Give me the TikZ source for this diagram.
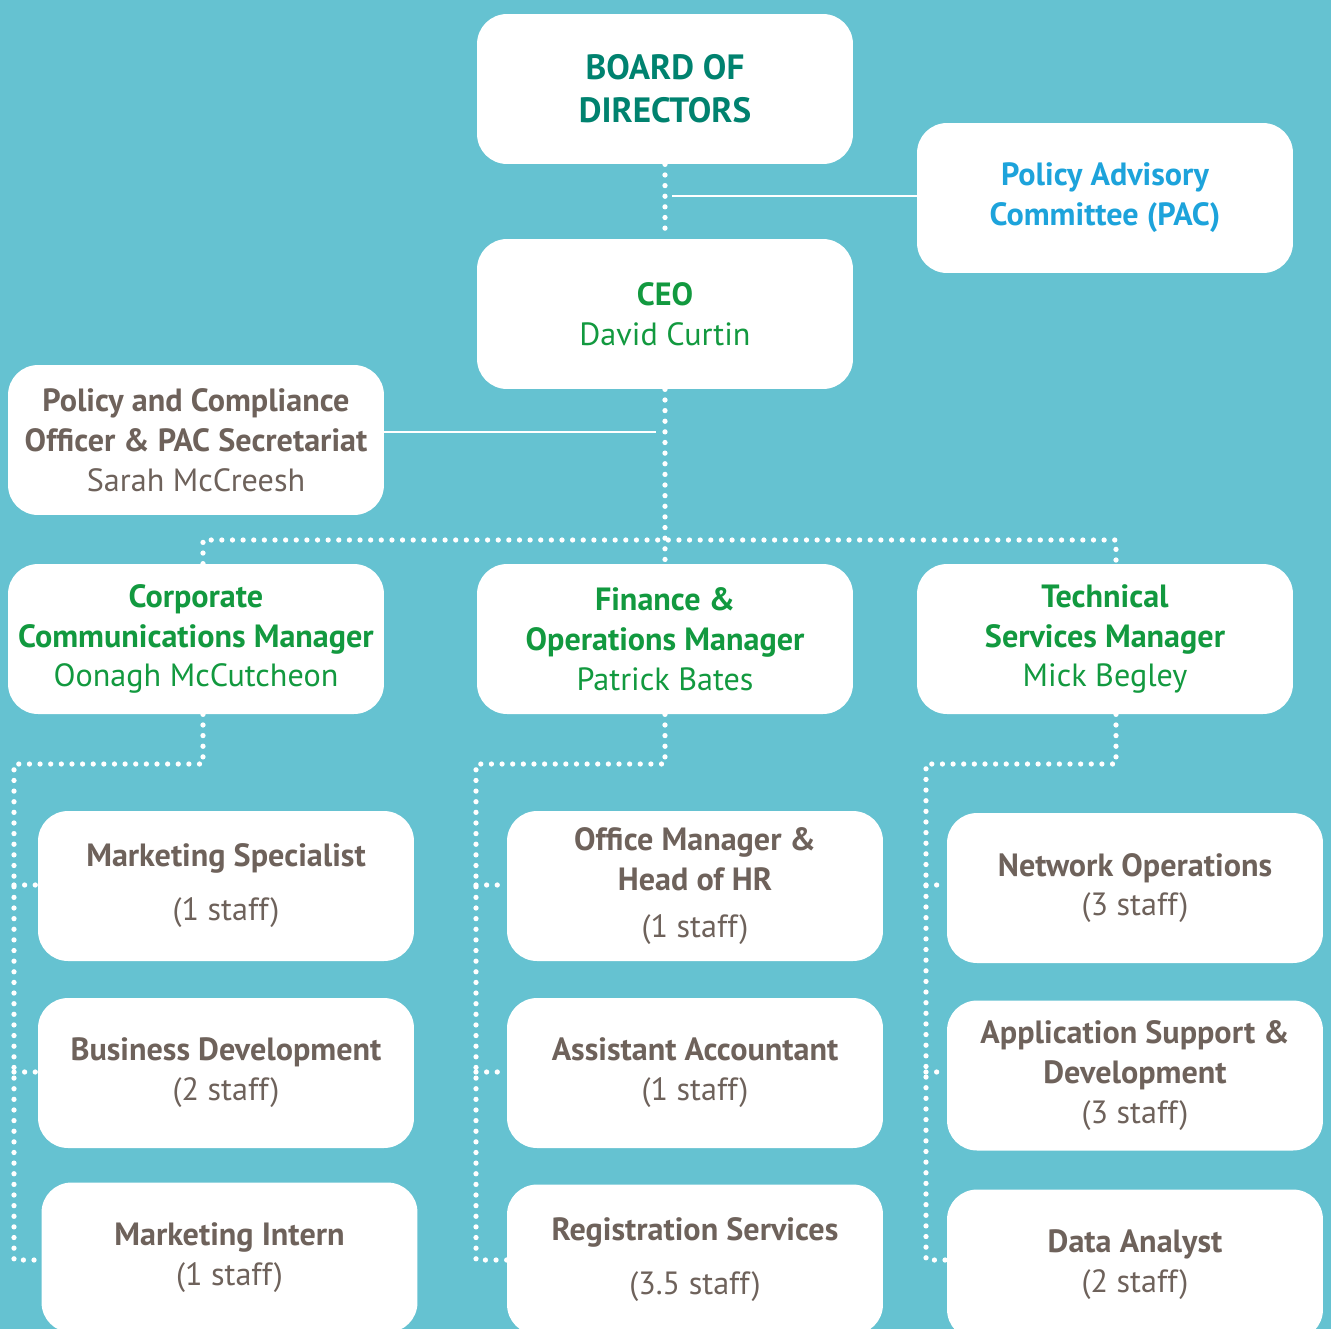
\documentclass[tikz,border=0pt]{standalone}
\usepackage{fontspec}
\setmainfont{PT Sans}
\usetikzlibrary{positioning}

\definecolor{bgteal}{HTML}{65C2D1}
\definecolor{boardgreen}{HTML}{00826F}
\definecolor{pacblue}{HTML}{1DA3DB}
\definecolor{mgrgreen}{HTML}{12993F}
\definecolor{staffgrey}{HTML}{6E625B}

\begin{document}
\begin{tikzpicture}[x=0.02cm, y=-0.02cm,
    box/.style={fill=white, rounded corners=0.6cm, minimum width=7.52cm,
      minimum height=3cm, align=center, inner sep=0pt,
      font=\fontsize{18.3}{22.7}\selectfont},
    link/.style={white, line width=1.2pt},
    dots/.style={white, line width=3pt, line cap=round,
      dash pattern=on 0pt off 6.05pt}]

  % Background
  \fill[bgteal] (0,0) rectangle (1331,1329);
  \useasboundingbox (0,0) rectangle (1331,1329);

  % Board, committee and CEO
  \node[box, text=boardgreen, font=\bfseries\fontsize{20}{24.4}\selectfont] (board) at (665,89) {BOARD OF\\DIRECTORS};
  \node[box, text=pacblue, font=\bfseries\fontsize{18.3}{22.7}\selectfont] (pac) at (1105,198) {Policy Advisory\\Committee (PAC)};
  \node[box, text=mgrgreen] (ceo) at (665,314) {\textbf{CEO}\\David Curtin};
  \node[box, text=staffgrey] (policy) at (196,440) {\textbf{Policy and Compliance}\\\textbf{Officer \& PAC Secretariat}\\Sarah McCreesh};

  % Managers
  \node[box, text=mgrgreen] (corp) at (196,639) {\textbf{Corporate}\\\textbf{Communications Manager}\\Oonagh McCutcheon};
  \node[box, text=mgrgreen] (fin) at (665,639) {\textbf{Finance \&}\\\textbf{Operations Manager}\\Patrick Bates};
  \node[box, text=mgrgreen] (tech) at (1105,639) {\textbf{Technical}\\\textbf{Services Manager}\\Mick Begley};

  % Staff under each manager
  \node[box, text=staffgrey] (mspec) at (226,886) {\textbf{Marketing Specialist}\\[8pt](1 staff)};
  \node[box, text=staffgrey] (bizdev) at (226,1073) {\textbf{Business Development}\\(2 staff)};
  \node[box, text=staffgrey] (intern) at (229.5,1257.5) {\textbf{Marketing Intern}\\(1 staff)};
  \node[box, text=staffgrey] (office) at (695,886) {\textbf{Office Manager \&}\\\textbf{Head of HR}\\[4pt](1 staff)};
  \node[box, text=staffgrey] (acct) at (695,1073) {\textbf{Assistant Accountant}\\(1 staff)};
  \node[box, text=staffgrey] (reg) at (695,1259.5) {\textbf{Registration Services}\\[8pt](3.5 staff)};
  \node[box, text=staffgrey] (netops) at (1135,888) {\textbf{Network Operations}\\(3 staff)};
  \node[box, text=staffgrey] (appsup) at (1135,1075.5) {\textbf{Application Support \&}\\\textbf{Development}\\(3 staff)};
  \node[box, text=staffgrey] (data) at (1135,1264.5) {\textbf{Data Analyst}\\(2 staff)};

  % Solid links
  \coordinate (pacend) at (672,196);
  \coordinate (polend) at (656,432);
  \draw[link] (pac.west |- pacend) -- (pacend);
  \draw[link] (policy.east |- polend) -- (polend);

  % Dotted reporting lines
  \coordinate (busL) at (203,540);
  \coordinate (busR) at (1116,540);
  \draw[dots] (board.south) -- (ceo.north);
  \draw[dots] (ceo.south) -- (fin.north);
  \draw[dots] (busL |- corp.north) -- (busL) -- (busR) -- (busR |- tech.north);

  \foreach \mgr/\drop/\spine/\a/\b/\c in {corp/203/14/mspec/bizdev/intern,
      fin/665/476/office/acct/reg, tech/1116/926/netops/appsup/data} {
    \draw[dots] (\mgr.south -| \drop,0) -- (\drop,764) -- (\spine,764)
      -- (\spine,1260) -- (\c.west |- \spine,1260);
    \draw[dots] (\spine,885) -- (\a.west |- \spine,885);
    \draw[dots] (\spine,1072) -- (\b.west |- \spine,1072);
  }
\end{tikzpicture}
\end{document}
